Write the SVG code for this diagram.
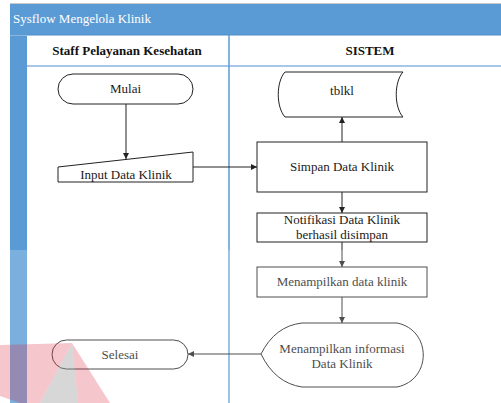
<svg xmlns="http://www.w3.org/2000/svg" width="501" height="403" viewBox="0 0 501 403">
  <defs>
    <style>
      .lbl { font-family: "Liberation Serif", "Times New Roman", serif; font-size: 13px; fill: #1a1a1a; text-anchor: middle; }
      .hdr { font-family: "Liberation Serif", "Times New Roman", serif; font-size: 13px; font-weight: bold; fill: #111; text-anchor: middle; }
      .ttl { font-family: "Liberation Serif", "Times New Roman", serif; font-size: 13px; fill: #ffffff; }
      .shape { fill: #ffffff; stroke: #222; stroke-width: 1; }
      .conn { fill: none; stroke: #222; stroke-width: 1; }
    </style>
    <marker id="arrow" viewBox="0 0 10 10" refX="10" refY="5" markerWidth="6" markerHeight="6" orient="auto" markerUnits="userSpaceOnUse">
      <path d="M0,0 L10,5 L0,10 Z" fill="#222"/>
    </marker>
  </defs>

  <rect width="501" height="403" fill="#ffffff"/>

  <!-- swimlane frame -->
  <g id="frame">
    <rect x="10" y="3" width="491" height="32" fill="#5b9bd5"/>
    <line x1="10" y1="3.5" x2="501" y2="3.5" stroke="#c9c9c9" stroke-width="1"/>
    <line x1="27" y1="35" x2="501" y2="35" stroke="#4f8cc9" stroke-width="1"/>
    <rect x="10" y="35" width="17" height="368" fill="#5b9bd5"/>
    <line x1="10" y1="35.5" x2="27" y2="35.5" stroke="#8fb4de" stroke-width="1"/>
    <line x1="27" y1="66" x2="501" y2="66" stroke="#a9c6e8" stroke-width="2"/>
    <line x1="229" y1="35" x2="229" y2="403" stroke="#5b9bd5" stroke-width="1.5"/>
    <text class="ttl" x="13" y="23">Sysflow Mengelola Klinik</text>
    <text class="hdr" x="127" y="55">Staff Pelayanan Kesehatan</text>
    <text class="hdr" x="370" y="55">SISTEM</text>
  </g>

  <!-- connectors -->
  <g id="connectors">
    <line class="conn" x1="126" y1="104" x2="126" y2="159" marker-end="url(#arrow)"/>
    <line class="conn" x1="193" y1="167" x2="257" y2="167" marker-end="url(#arrow)"/>
    <line class="conn" x1="342" y1="142" x2="342" y2="117" marker-end="url(#arrow)"/>
    <line class="conn" x1="342" y1="192" x2="342" y2="213" marker-end="url(#arrow)"/>
    <line class="conn" x1="342" y1="242" x2="342" y2="267" marker-end="url(#arrow)"/>
    <line class="conn" x1="342" y1="297" x2="342" y2="323" marker-end="url(#arrow)"/>
    <line class="conn" x1="261" y1="354" x2="188" y2="354" marker-end="url(#arrow)"/>
  </g>

  <!-- nodes -->
  <g id="mulai">
    <rect class="shape" x="58" y="74" width="135" height="30" rx="15" ry="15"/>
    <text class="lbl" x="125.5" y="93">Mulai</text>
  </g>

  <g id="input-data-klinik">
    <path class="shape" d="M58,167 L193,152 L193,182 L58,182 Z"/>
    <text class="lbl" x="126" y="179">Input Data Klinik</text>
  </g>

  <g id="tblkl">
    <path class="shape" d="M285,72 L403,72 C394,82 394,107 403,117 L285,117 C276,107 276,82 285,72 Z"/>
    <text class="lbl" x="342" y="95">tblkl</text>
  </g>

  <g id="simpan-data-klinik">
    <rect class="shape" x="257" y="142" width="170" height="50"/>
    <text class="lbl" x="342" y="171">Simpan Data Klinik</text>
  </g>

  <g id="notifikasi">
    <rect class="shape" x="257" y="213" width="170" height="29"/>
    <text class="lbl" x="342" y="223.5">Notifikasi Data Klinik</text>
    <text class="lbl" x="342" y="238.5">berhasil disimpan</text>
  </g>

  <g id="menampilkan-data-klinik">
    <rect class="shape" x="257" y="267" width="170" height="30"/>
    <text class="lbl" x="342" y="285.5">Menampilkan data klinik</text>
  </g>

  <g id="menampilkan-informasi">
    <path class="shape" d="M261,354 Q275,326 302,323 L397,323 C432,330 432,380 397,387 L302,387 Q275,383 261,354 Z"/>
    <text class="lbl" x="342" y="353">Menampilkan informasi</text>
    <text class="lbl" x="342" y="367.5">Data Klinik</text>
  </g>

  <g id="selesai">
    <rect class="shape" x="52" y="340" width="136" height="29" rx="14.5" ry="14.5"/>
    <text class="lbl" x="120" y="358.5">Selesai</text>
  </g>

  <!-- lighter lower part of the sheet -->
  <rect x="0" y="250" width="501" height="153" fill="#ffffff" opacity="0.2"/>

  <!-- faint logo mark in the corner -->
  <g id="logo-mark">
    <path d="M72,343 L0,345 L0,396 L20,403 L40,403 Z" fill="#d8283c" opacity="0.26"/>
    <path d="M72,343 L78,403 L110,403 Z" fill="#d8283c" opacity="0.26"/>
    <path d="M72,343 L40,403 L78,403 Z" fill="#9a9a9a" opacity="0.4"/>
  </g>
</svg>
